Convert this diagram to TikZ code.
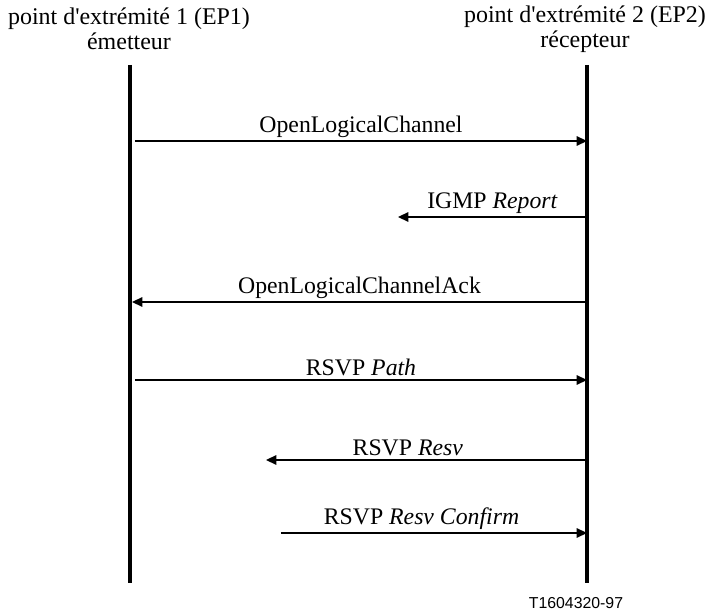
\documentclass[tikz,border=0pt]{standalone}
\usepackage{fontspec}
\setmainfont{Liberation Serif}
\setsansfont{Liberation Sans}
\usepackage{tikz}
\usetikzlibrary{arrows.meta,positioning,calc}

\begin{document}
\begin{tikzpicture}[
  x=0.48pt, y=-0.48pt,
  lifeline/.style = {line width=2pt},
  msg/.style      = {-{Triangle[length=5pt,width=4.6pt]}, line width=0.7pt},
  lbl/.style      = {above, inner sep=1.5pt, font=\fontsize{11.4}{12}\selectfont},
  head/.style     = {align=center, font=\fontsize{11.5}{12}\selectfont},
]
\useasboundingbox (0,0) rectangle (709,611);

% ── Extrémités ───────────────────────────────────────────────
\node[head] (ep1) at (129,29) {point d\textquotesingle extrémité 1 (EP1)\\émetteur};
\node[head] (ep2) at (585,29) {point d\textquotesingle extrémité 2 (EP2)\\récepteur};

\coordinate (ep1top) at (130,65);
\coordinate (ep1bot) at (130,583);
\coordinate (ep2top) at (587,65);
\coordinate (ep2bot) at (587,583);

\draw[lifeline] (ep1top) -- (ep1bot);
\draw[lifeline] (ep2top) -- (ep2bot);

% ── Messages ─────────────────────────────────────────────────
\coordinate (m1) at (135,141);
\coordinate (m2) at (398,217);
\coordinate (m3) at (132,302);
\coordinate (m4) at (135,380);
\coordinate (m5) at (266,460);
\coordinate (m6) at (281,533);

\draw[msg] (m1) -- node[lbl]{OpenLogicalChannel} (ep2top |- m1);
\draw[msg] (ep2top |- m2) -- node[lbl]{IGMP \textit{Report}} (m2);
\draw[msg] (ep2top |- m3) -- node[lbl]{OpenLogicalChannelAck} (m3);
\draw[msg] (m4) -- node[lbl]{RSVP \textit{Path}} (ep2top |- m4);
\draw[msg] (ep2top |- m5) -- node[lbl,xshift=-9pt]{RSVP \textit{Resv}} (m5);
\draw[msg] (m6) -- node[lbl,xshift=-6pt]{RSVP \textit{Resv Confirm}} (ep2top |- m6);

% ── Référence ────────────────────────────────────────────────
\node[font=\sffamily\fontsize{7.6}{8}\selectfont] (ref) at (576,603) {T1604320-97};

\end{tikzpicture}
\end{document}
